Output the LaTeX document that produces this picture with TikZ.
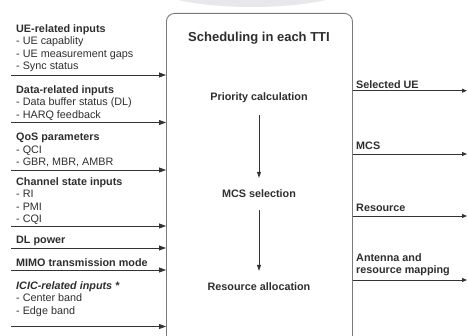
\documentclass[tikz,border=0pt]{standalone}
\usepackage{fontspec}
\setmainfont{Liberation Sans}
\usetikzlibrary{arrows.meta}
\definecolor{txt}{HTML}{2E2E2E}
\definecolor{boxc}{HTML}{7A7A7A}
\definecolor{halo}{HTML}{E8E8EC}
\definecolor{linec}{HTML}{333333}
\begin{document}
\begin{tikzpicture}[x=1pt,y=-1pt,
  lbl/.style={font=\fontsize{10.8}{12.6}\selectfont, text=txt, inner sep=0pt, anchor=north west, align=left},
  stage/.style={font=\fontsize{10.8}{12.6}\selectfont\bfseries, text=txt, inner sep=0pt},
  inarr/.style={draw=linec, line width=0.8pt, -{Triangle[length=7pt,width=5pt]}},
  outarr/.style={draw=linec, line width=0.8pt, -{Triangle[length=5pt,width=4pt]}},
  darr/.style={draw=linec, line width=0.8pt, -{Triangle[length=6pt,width=4pt]}, shorten <=12pt, shorten >=12pt}]
\useasboundingbox (0,0) rectangle (468,336);
\fill[halo] (252,-13) ellipse [x radius=97, y radius=20];
\node[draw=boxc, line width=0.9pt, rounded corners=8pt, minimum width=186pt, minimum height=360pt, anchor=north west, inner sep=0pt] (box) at (166,13) {};
\node[font=\fontsize{13}{15}\selectfont\bfseries, text=txt, inner sep=0pt] (title) at (259,38) {Scheduling in each TTI};
\node[stage] (pc) at (259,98) {Priority calculation};
\node[stage] (mcs) at (259,194) {MCS selection};
\node[stage] (ra) at (259,287) {Resource allocation};
\draw[darr] (pc) -- (mcs);
\draw[darr] (mcs) -- (ra);
% left inputs
\node[lbl] (b1) at (16,24) {\textbf{UE-related inputs}\\- UE capablity\\- UE measurement gaps\\- Sync status};
\node[lbl] (b2) at (16,85) {\textbf{Data-related inputs}\\- Data buffer status (DL)\\- HARQ feedback};
\node[lbl] (b3) at (16,133) {\textbf{QoS parameters}\\- QCI\\- GBR, MBR, AMBR};
\node[lbl] (b4) at (16,177) {\textbf{Channel state inputs}\\- RI\\- PMI\\- CQI};
\node[lbl] (b5) at (16,236) {\textbf{DL power}};
\node[lbl] (b6) at (16,258) {\textbf{MIMO transmission mode}};
\node[lbl] (b7) at (16,281) {\textbf{\textit{ICIC-related inputs *}}\\- Center band\\- Edge band};
\coordinate (a1) at (11,75);
\coordinate (a2) at (11,122.5);
\coordinate (a3) at (11,170);
\coordinate (a4) at (11,226);
\coordinate (a5) at (11,248);
\coordinate (a6) at (11,270);
\coordinate (a7) at (11,326.5);
\foreach \c in {a1,a2,a3,a4,a5,a6,a7} \draw[inarr] (\c) -- (\c -| box.west);
% outputs
\node[lbl, font=\fontsize{10.8}{12.6}\selectfont\bfseries] (o1t) at (356,80) {Selected UE};
\node[lbl, font=\fontsize{10.8}{12.6}\selectfont\bfseries] (o2t) at (356,142) {MCS};
\node[lbl, font=\fontsize{10.8}{12.6}\selectfont\bfseries] (o3t) at (356,204) {Resource};
\node[lbl, font=\fontsize{10.8}{12.6}\selectfont\bfseries] (o4t) at (356,253) {Antenna and\\resource mapping};
\coordinate (o1) at (467,90.7);
\coordinate (o2) at (467,154);
\coordinate (o3) at (467,216);
\coordinate (o4) at (467,280);
\foreach \c in {o1,o2,o3,o4} \draw[outarr] (\c -| box.east) -- (\c);
\end{tikzpicture}
\end{document}
